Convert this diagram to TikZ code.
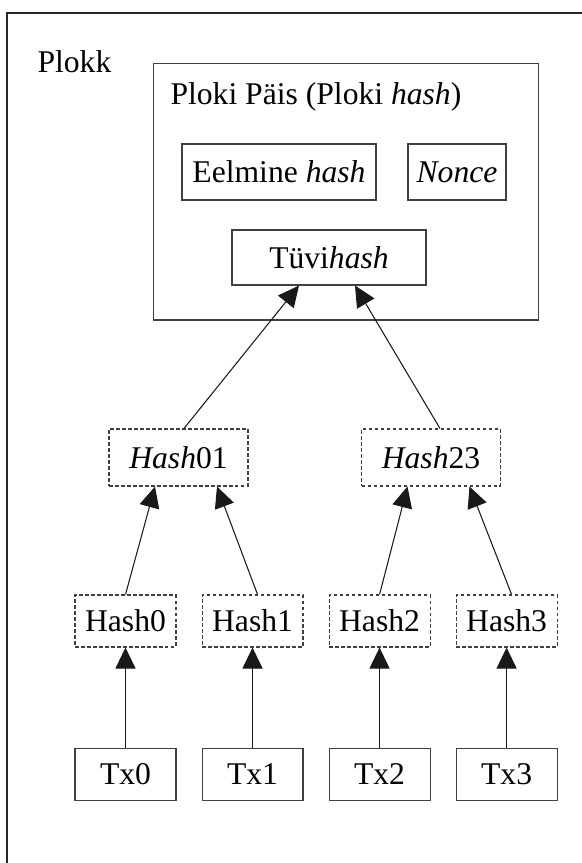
\documentclass[tikz,border=0pt]{standalone}
\usepackage{fontspec}
\setmainfont{Liberation Serif}
\usetikzlibrary{positioning,arrows.meta}
\tikzset{
  box/.style     = {draw=black!75, line width=0.6pt, inner sep=0pt, align=center,
                    font=\fontsize{18}{21.6}\selectfont},
  label/.style   = {box, draw=none, anchor=base west},
  hashbox/.style = {box, dash pattern=on 0.07cm off 0.05cm},
  leaf/.style    = {hashbox, minimum width=2.02cm, minimum height=1.04cm},
  txbox/.style   = {box, minimum width=2.02cm, minimum height=1.04cm},
  frame/.style   = {draw=black!85, line width=0.6pt},
  arrow/.style   = {-{Triangle[length=0.42cm,width=0.4cm]}, line width=0.6pt, black!90},
}

\begin{document}
\begin{tikzpicture}[x=0.02cm, y=-0.02cm, node distance=2cm and 0.5cm]
  \useasboundingbox (0,0) rectangle (582,863);
  \begin{scope}
    \clip (0,0) rectangle (582,863);
    \draw[frame] (7,13) rectangle (640,920);
  \end{scope}
  \node[label] (plokk) at (37,72) {Plokk};
  \node[box, minimum width=7.72cm, minimum height=5.14cm] (pais) at (346,191.5) {};
  \node[label] (pealkiri) at (170,104) {Ploki Päis (Ploki \textit{hash})};
  \node[box, minimum width=3.88cm, minimum height=1.12cm] (eelm) at (279,172) {Eelmine \textit{hash}};
  \node[box, minimum width=1.96cm, minimum height=1.12cm] (nonce) at (457,172) {\textit{Nonce}};
  \node[box, minimum width=3.88cm, minimum height=1.1cm] (tuvi) at (329,257.5) {Tüvi\textit{hash}};

  \node[hashbox, minimum width=2.78cm, minimum height=1.14cm] (h01) at (178.5,457.5) {\textit{Hash}01};
  \node[hashbox, minimum width=2.78cm, minimum height=1.14cm] (h23) at (431,457.5) {\textit{Hash}23};

  \node[leaf] (h0) at (125.5,621) {Hash0};
  \node[leaf, right=of h0] (h1) {Hash1};
  \node[leaf, right=of h1] (h2) {Hash2};
  \node[leaf, right=of h2] (h3) {Hash3};

  \node[txbox, below=of h0] (tx0) {Tx0};
  \node[txbox, below=of h1] (tx1) {Tx1};
  \node[txbox, below=of h2] (tx2) {Tx2};
  \node[txbox, below=of h3] (tx3) {Tx3};

  \draw[arrow] (tx0) -- (h0); \draw[arrow] (tx1) -- (h1);
  \draw[arrow] (tx2) -- (h2); \draw[arrow] (tx3) -- (h3);
  \draw[arrow] (h0.north) -- ([xshift=-0.47cm]h01.south);
  \draw[arrow] ([xshift=0.1cm]h1.north) -- ([xshift=0.77cm]h01.south);
  \draw[arrow] (h2.north) -- ([xshift=-0.47cm]h23.south);
  \draw[arrow] ([xshift=0.1cm]h3.north) -- ([xshift=0.77cm]h23.south);
  \draw[arrow] ([xshift=0.11cm]h01.north) -- ([xshift=-0.6cm]tuvi.south);
  \draw[arrow] ([xshift=0.18cm]h23.north) -- ([xshift=0.52cm]tuvi.south);
\end{tikzpicture}
\end{document}
